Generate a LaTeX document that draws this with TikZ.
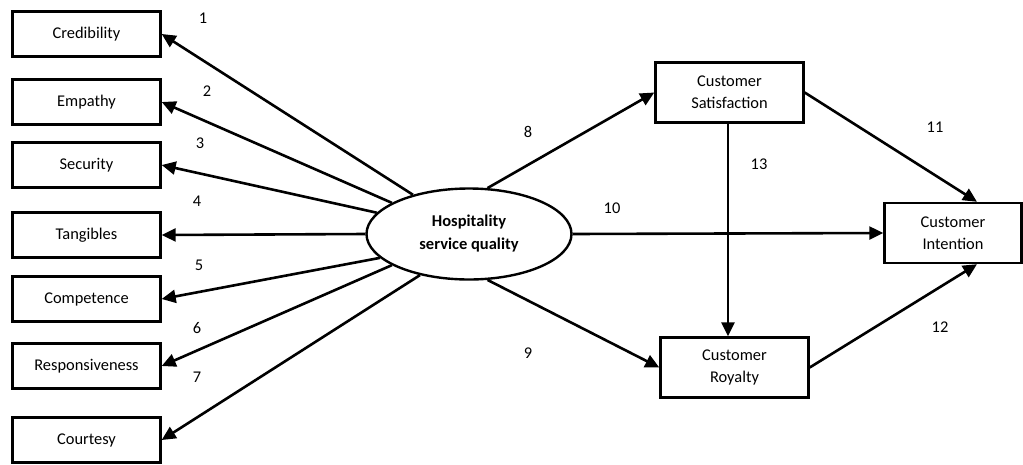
\documentclass[tikz,border=0pt]{standalone}
\usepackage{fontspec}
\setmainfont{Carlito}
\usepackage{tikz}
\usetikzlibrary{positioning}
\usetikzlibrary{shapes.geometric,arrows.meta}

\tikzset{
  dimbox/.style={draw, line width=2.4pt, minimum width=148pt, minimum height=45pt, inner sep=0pt},
  outbox/.style={draw, line width=2.4pt, minimum height=60pt, align=center, inner sep=0pt},
  link/.style={line width=2.6pt, -{Triangle[length=14pt,width=13pt]}},
  pathno/.style={inner sep=0pt}
}

\begin{document}
\begin{tikzpicture}[x=1pt, y=-1pt, font=\fontsize{16.4}{22}\selectfont]
  \useasboundingbox (0,0) rectangle (1023,464);

  % the central construct
  \node[draw, ellipse, line width=2.4pt, minimum width=205pt, minimum height=91pt,
        inner sep=0pt, align=center, font=\fontsize{16.5}{23}\selectfont\bfseries]
        (hsq) at (469,234) {Hospitality\\service quality};

  % the seven dimensions on the left
  \foreach \name/\y/\txt in {cred/34/Credibility, emp/102/Empathy, sec/165/Security,
      tang/235/Tangibles, comp/299/Competence, resp/366/Responsiveness, court/440/Courtesy} {
    \node[dimbox] (\name) at (86.5,\y) {\txt};
  }

  % arrows from the construct to each dimension
  \foreach \name/\ang in {cred/145, emp/158, sec/167, tang/180, comp/195, resp/202, court/220} {
    \draw[link] (hsq.\ang) -- (\name.east);
  }

  % path numbers 1..7
  \foreach \n/\x/\y in {1/203/18, 2/207/91, 3/200/143, 4/197/201, 5/199/265, 6/197/328, 7/197/377} {
    \node[pathno] (no\n) at (\x,\y) {\n};
  }

  % outcomes on the right
  \node[outbox, minimum width=148pt] (sat) at (729.5,92.5) {Customer\\Satisfaction};
  \node[outbox, minimum width=148pt] (roy) at (734.5,367.5) {Customer\\Royalty};
  \node[outbox, minimum width=137pt] (int) at (953,233) {Customer\\Intention};

  \draw[link] (hsq.68) -- (sat.west);
  \draw[link] (hsq.292) -- (roy.west);
  \draw[link] (hsq.east) -- (int.west);
  \draw[link] (sat.east) -- ([xshift=24pt]int.north);
  \draw[link] (roy.east) -- ([xshift=24pt]int.south);
  \draw[link] ([xshift=-1.5pt]sat.south) -- ([xshift=-1.5pt]sat.south |- roy.north);

  % path numbers 8..13
  \foreach \n/\x/\y in {8/528/132, 9/528/353, 10/612/208, 11/935/127, 12/940/327, 13/759/164} {
    \node[pathno] (no\n) at (\x,\y) {\n};
  }
\end{tikzpicture}
\end{document}
